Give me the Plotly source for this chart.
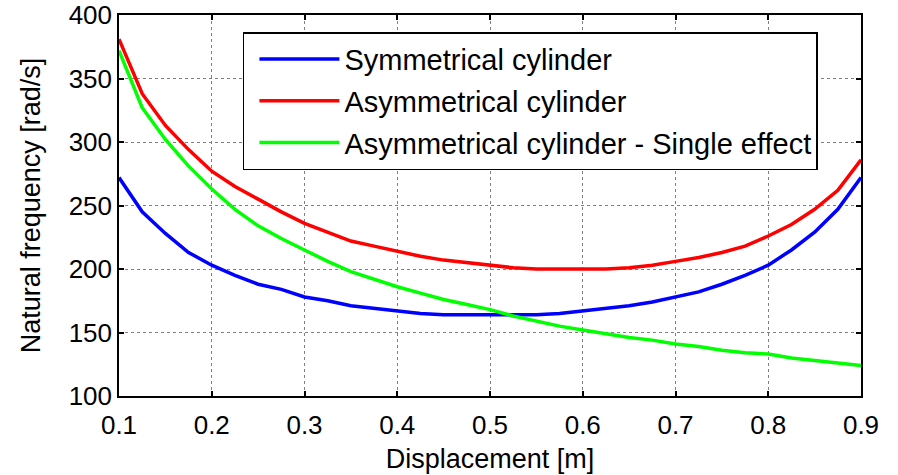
import plotly.graph_objects as go

displacement = [0.1, 0.125, 0.15, 0.175, 0.2, 0.225, 0.25, 0.275, 0.3, 0.325, 0.35,
                0.375, 0.4, 0.425, 0.45, 0.475, 0.5, 0.525, 0.55, 0.575, 0.6, 0.625,
                0.65, 0.675, 0.7, 0.725, 0.75, 0.775, 0.8, 0.825, 0.85, 0.875, 0.9]

symmetrical = [272, 245, 228, 213, 203, 195, 188, 184, 178, 175, 171, 169, 167, 165,
               164, 164, 164, 164, 164, 165, 167, 169, 171, 174, 178, 182, 188, 195,
               203, 215, 229, 247, 272]

asymmetrical = [381, 338, 313, 294, 277, 265, 255, 245, 236, 229, 222, 218, 214, 210,
                207, 205, 203, 201, 200, 200, 200, 200, 201, 203, 206, 209, 213, 218,
                226, 235, 247, 262, 286]

asym_single = [372, 327, 302, 281, 263, 247, 234, 224, 215, 206, 198, 192, 186, 181,
               176, 172, 168, 163, 159, 155, 152, 149, 146, 144, 141, 139, 136, 134,
               133, 130, 128, 126, 124]

names = ["Symmetrical cylinder", "Asymmetrical cylinder",
         "Asymmetrical cylinder - Single effect"]
colors = ["#0000ff", "#ff0000", "#00ff00"]
series = [symmetrical, asymmetrical, asym_single]

FONT = "Liberation Sans, Arial, sans-serif"

fig = go.Figure()
for i, (nm, col, ys) in enumerate(zip(names, colors, series)):
    fig.add_trace(go.Scatter(x=displacement, y=ys, mode="lines", name=nm,
                             legendgroup=f"g{i}",
                             line=dict(color=col, width=3.5)))

axis_common = dict(showline=True, linecolor="black", linewidth=1.5, mirror="ticks",
                   ticks="inside", ticklen=5, tickcolor="black", tickwidth=1.5,
                   showgrid=True, gridcolor="#808080", gridwidth=1, griddash="dot",
                   zeroline=False, automargin=False,
                   tickfont=dict(family=FONT, size=26, color="black"))

fig.update_xaxes(range=[0.1, 0.9], dtick=0.1, tick0=0.1, **axis_common,
                 ticklabelstandoff=5,
                 title=dict(text="Displacement [m]", standoff=10,
                            font=dict(family=FONT, size=27, color="black")))
fig.update_yaxes(range=[100, 400], dtick=50, tick0=100, **axis_common,
                 title=dict(text="Natural frequency [rad/s]", standoff=20,
                            font=dict(family=FONT, size=27, color="black")))

fig.update_layout(
    width=898, height=475,
    margin=dict(l=119, r=37, t=15, b=79),
    plot_bgcolor="white", paper_bgcolor="white",
    font=dict(family=FONT, color="black"),
    showlegend=True,
    legend=dict(x=0.167, y=0.955, xanchor="left", yanchor="top",
                bgcolor="white", bordercolor="black", borderwidth=1.5,
                font=dict(family=FONT, size=29, color="black"),
                tracegroupgap=1, itemwidth=80, indentation=10),
)

fig.write_html("out.html")
